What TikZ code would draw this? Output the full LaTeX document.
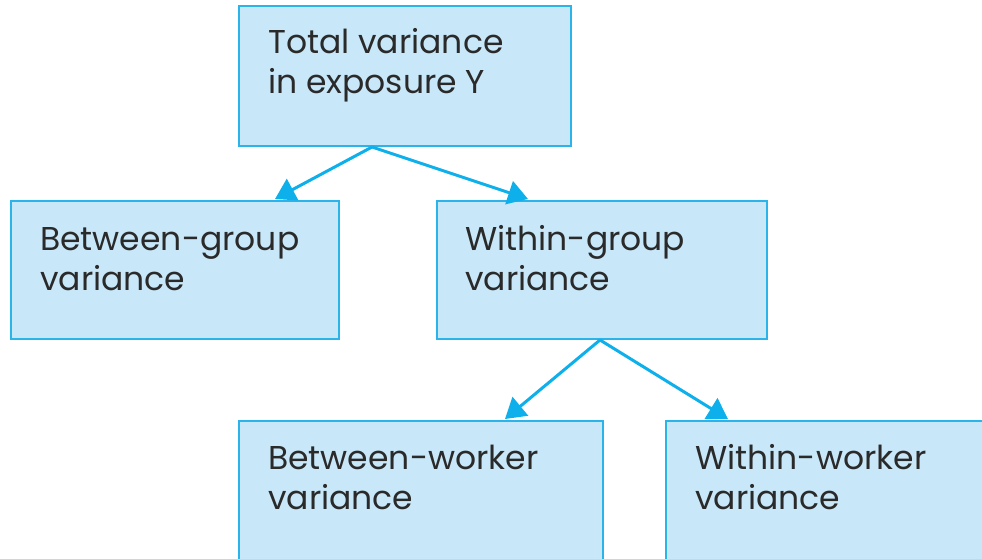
\documentclass[tikz,border=0pt]{standalone}
\usepackage{fontspec}
\setmainfont{Poppins}
\usetikzlibrary{arrows.meta,calc}
\definecolor{boxfill}{HTML}{C8E8F9}
\definecolor{boxline}{HTML}{2AB4EA}
\definecolor{arrowc}{HTML}{0EB0EC}
\definecolor{txt}{HTML}{2A2A2A}
\tikzset{
  box/.style={draw=boxline, fill=boxfill, line width=2pt, rectangle, inner sep=0pt, anchor=north west},
  lbl/.style={anchor=base west, inner sep=0pt, text=txt, align=left, font=\fontsize{33}{40}\selectfont},
  conn/.style={draw=arrowc, line width=3pt, -{Triangle[length=20pt,width=24pt]}}
}
\begin{document}
\begin{tikzpicture}[x=1pt,y=-1pt]
\useasboundingbox (0,0) rectangle (982,559);
\node[box, minimum width=332pt, minimum height=140pt] (t) at (238,5) {};
\node[box, minimum width=328pt, minimum height=138pt] (bg) at (10,200) {};
\node[box, minimum width=330pt, minimum height=138pt] (wg) at (436,200) {};
\node[box, minimum width=364pt, minimum height=160pt] (bw) at (238,420) {};
\node[box, minimum width=340pt, minimum height=160pt] (ww) at (665,420) {};
\node[lbl] (tl) at ($(t.north west)+(30,89)$) {Total variance\\in exposure Y};
\node[lbl] (bgl) at ($(bg.north west)+(30,90)$) {Between-group\\variance};
\node[lbl] (wgl) at ($(wg.north west)+(29,90)$) {Within-group\\variance};
\node[lbl] (bwl) at ($(bw.north west)+(30,89)$) {Between-worker\\variance};
\node[lbl] (wwl) at ($(ww.north west)+(30,89)$) {Within-worker\\variance};
\coordinate (ts) at ($(t.south west)+(134,0)$);
\coordinate (ws) at ($(wg.south west)+(164,0)$);
\draw[conn] (ts) -- ($(bg.north west)+(265,-1)$);
\draw[conn] (ts) -- ($(wg.north west)+(92,-1)$);
\draw[conn] (ws) -- ($(bw.north west)+(267,-1)$);
\draw[conn] (ws) -- ($(ww.north west)+(63,-1)$);
\end{tikzpicture}
\end{document}
